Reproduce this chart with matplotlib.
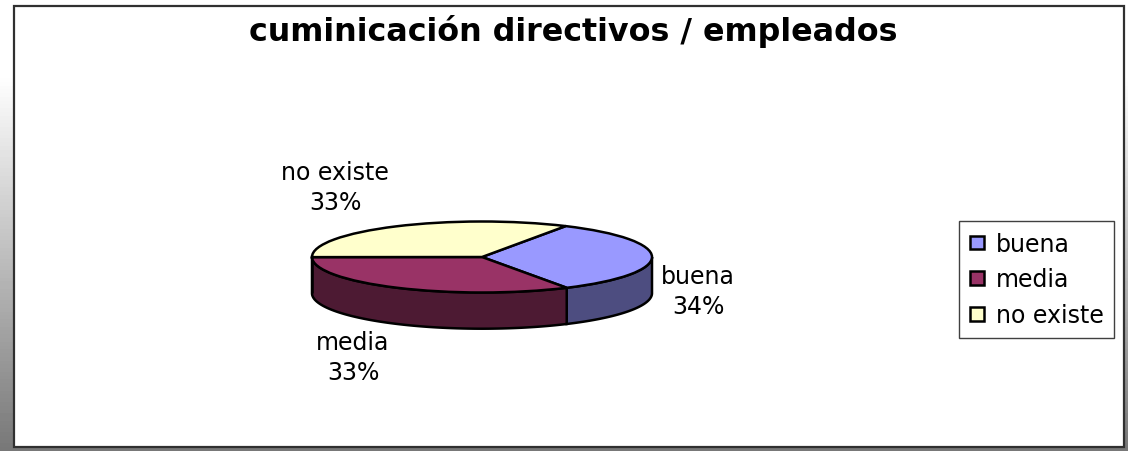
import numpy as np
from matplotlib import pyplot as plt
from matplotlib.patches import Rectangle

title = 'cuminicación directivos / empleados'
labels = ['buena', 'media', 'no existe']
values = [33.5, 33.25, 33.25]
percent_labels = ['34%', '33%', '33%']
top_colors = ['#9999FF', '#993366', '#FFFFCC']
side_colors = ['#4D4D80', '#4D1A33', '#80805F']

W, H = 1128, 452
FONT = 'DejaVu Sans'

fig = plt.figure(figsize=(W / 100, H / 100), dpi=100, facecolor='white')

# grey gradient behind the white panel
bg = fig.add_axes([0, 0, 1, 1], zorder=0)
grad = np.concatenate([np.ones(20), np.linspace(1, 0.47, 100)]).reshape(-1, 1)
bg.imshow(grad, cmap='gray', vmin=0, vmax=1, aspect='auto', extent=[0, W, H, 0])
bg.set_xlim(0, W)
bg.set_ylim(H, 0)
bg.axis('off')
bg.add_patch(Rectangle((13.5, 6.5), 1110, 441, facecolor='white', edgecolor='#303030', lw=1.6))

# pie axes, squashed to look like a tilted disc
cx, cy, rx, ry = 482, 258, 170, 35.5
xlim = (-1.2, 1.2)
ylim = (-2.4, 1.2)
ax = fig.add_axes([(cx + xlim[0] * rx) / W,
                   1 - (cy - ylim[0] * ry) / H,
                   (xlim[1] - xlim[0]) * rx / W,
                   (ylim[1] - ylim[0]) * ry / H], zorder=1)
wedges, _ = ax.pie(values, colors=top_colors, startangle=60.5, counterclock=False,
                   wedgeprops={'edgecolor': 'black', 'linewidth': 1.8, 'zorder': 3})
ax.set_aspect('auto')
ax.set_xlim(*xlim)
ax.set_ylim(*ylim)
ax.patch.set_alpha(0)

# side wall of the disc, only the front half shows
depth = 1.02
for w, side in zip(wedges, side_colors):
    t = np.radians(np.linspace(w.theta1, w.theta2, 200))
    t = t[np.sin(t) <= 0]
    if len(t) == 0:
        continue
    xs = np.r_[np.cos(t), np.cos(t[::-1])]
    ys = np.r_[np.sin(t), np.sin(t[::-1]) - depth]
    ax.fill(xs, ys, facecolor=side, edgecolor='black', lw=1.8, zorder=2)

# slice labels
label_pos = [(698, 292), (353, 358), (335, 188)]
for name, pct, (x, y) in zip(labels, percent_labels, label_pos):
    fig.text(x / W, 1 - y / H, f'{name}\n{pct}', ha='center', va='center', family=FONT,
             fontsize=17, color='black', linespacing=1.3, zorder=5)

fig.text(573 / W, 1 - 32 / H, title, ha='center', va='center', family=FONT,
         fontweight='bold', fontsize=22.9, color='black', zorder=5)

leg = ax.legend(wedges, labels, loc='upper left',
                bbox_to_anchor=(959 / W, 1 - 222 / H), bbox_transform=fig.transFigure,
                fancybox=False, framealpha=1, edgecolor='#404040',
                prop={'family': FONT, 'size': 17}, borderaxespad=0,
                handlelength=0.6, handleheight=0.5, handletextpad=0.5,
                labelspacing=0.5, borderpad=0.45)
leg.get_frame().set_linewidth(1)

fig.savefig('out.png', dpi=100)
